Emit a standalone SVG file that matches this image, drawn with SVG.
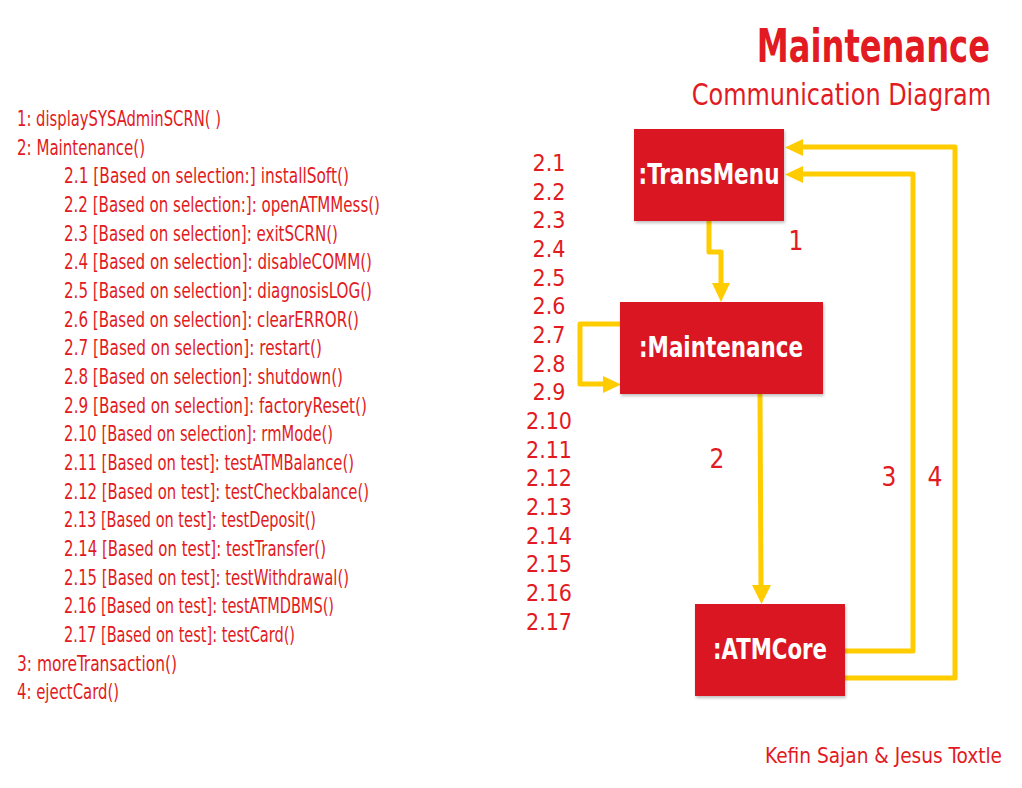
<svg xmlns="http://www.w3.org/2000/svg" width="1022" height="788" viewBox="0 0 1022 788">
  <defs>
    <style>
      text { font-family: "DejaVu Sans Condensed", "DejaVu Sans", "Liberation Sans", sans-serif; font-stretch: condensed; }
      .red { fill: #E21A22; }
      .title { font-size: 46px; font-weight: bold; }
      .subtitle { font-size: 31px; }
      .msg { font-size: 21px; }
      .num { font-size: 23px; }
      .lbl { font-size: 26px; }
      .credit { font-size: 22px; }
      .node rect { fill: #DA1820; filter: url(#shadow); }
      .node text { fill: #FFFFFF; font-weight: bold; font-size: 29px; }
      .wire { fill: none; stroke: #FFCC00; stroke-width: 5; stroke-linecap: round; stroke-linejoin: round; }
      .head { fill: #FFCC00; }
    </style>
    <filter id="shadow" x="-10%" y="-10%" width="125%" height="130%">
      <feDropShadow dx="1" dy="2" stdDeviation="1.5" flood-color="#000000" flood-opacity="0.25"/>
    </filter>
  </defs>

  <rect width="1022" height="788" fill="#FFFFFF"/>

  <!-- heading, narrowed horizontally -->
  <g id="heading">
    <text class="red title" transform="translate(990,62) scale(0.78,1)" x="0" y="0" text-anchor="end" textLength="299" lengthAdjust="spacingAndGlyphs">Maintenance</text>
    <text class="red subtitle" transform="translate(991,105) scale(0.88,1)" x="0" y="0" text-anchor="end" textLength="340" lengthAdjust="spacingAndGlyphs">Communication Diagram</text>
  </g>

  <!-- message list -->
  <g id="message-list" class="red msg">
    <text x="17" y="126" textLength="204" lengthAdjust="spacingAndGlyphs">1: displaySYSAdminSCRN( )</text>
    <text x="17" y="155" textLength="128" lengthAdjust="spacingAndGlyphs">2: Maintenance()</text>
    <text x="64" y="183" textLength="285" lengthAdjust="spacingAndGlyphs">2.1  [Based on selection:] installSoft()</text>
    <text x="64" y="212" textLength="316" lengthAdjust="spacingAndGlyphs">2.2  [Based on selection:]: openATMMess()</text>
    <text x="64" y="241" textLength="274" lengthAdjust="spacingAndGlyphs">2.3  [Based on selection]: exitSCRN()</text>
    <text x="64" y="269" textLength="308" lengthAdjust="spacingAndGlyphs">2.4  [Based on selection]: disableCOMM()</text>
    <text x="64" y="298" textLength="308" lengthAdjust="spacingAndGlyphs">2.5  [Based on selection]: diagnosisLOG()</text>
    <text x="64" y="327" textLength="295" lengthAdjust="spacingAndGlyphs">2.6  [Based on selection]: clearERROR()</text>
    <text x="64" y="355" textLength="258" lengthAdjust="spacingAndGlyphs">2.7  [Based on selection]: restart()</text>
    <text x="64" y="384" textLength="279" lengthAdjust="spacingAndGlyphs">2.8  [Based on selection]: shutdown()</text>
    <text x="64" y="413" textLength="303" lengthAdjust="spacingAndGlyphs">2.9  [Based on selection]: factoryReset()</text>
    <text x="64" y="441" textLength="269" lengthAdjust="spacingAndGlyphs">2.10 [Based on selection]: rmMode()</text>
    <text x="64" y="470" textLength="290" lengthAdjust="spacingAndGlyphs">2.11  [Based on test]: testATMBalance()</text>
    <text x="64" y="499" textLength="305" lengthAdjust="spacingAndGlyphs">2.12 [Based on test]: testCheckbalance()</text>
    <text x="64" y="527" textLength="252" lengthAdjust="spacingAndGlyphs">2.13 [Based on test]: testDeposit()</text>
    <text x="64" y="556" textLength="262" lengthAdjust="spacingAndGlyphs">2.14 [Based on test]: testTransfer()</text>
    <text x="64" y="585" textLength="285" lengthAdjust="spacingAndGlyphs">2.15 [Based on test]: testWithdrawal()</text>
    <text x="64" y="613" textLength="270" lengthAdjust="spacingAndGlyphs">2.16 [Based on test]: testATMDBMS()</text>
    <text x="64" y="642" textLength="231" lengthAdjust="spacingAndGlyphs">2.17 [Based on test]: testCard()</text>
    <text x="17" y="671" textLength="160" lengthAdjust="spacingAndGlyphs">3: moreTransaction()</text>
    <text x="17" y="699" textLength="102" lengthAdjust="spacingAndGlyphs">4: ejectCard()</text>
  </g>

  <!-- sequence numbers of the self-call -->
  <g id="self-call-numbers" class="red num" text-anchor="middle">
    <text x="549" y="171">2.1</text>
    <text x="549" y="200">2.2</text>
    <text x="549" y="228">2.3</text>
    <text x="549" y="257">2.4</text>
    <text x="549" y="286">2.5</text>
    <text x="549" y="314">2.6</text>
    <text x="549" y="343">2.7</text>
    <text x="549" y="372">2.8</text>
    <text x="549" y="400">2.9</text>
    <text x="549" y="429">2.10</text>
    <text x="549" y="458">2.11</text>
    <text x="549" y="486">2.12</text>
    <text x="549" y="515">2.13</text>
    <text x="549" y="544">2.14</text>
    <text x="549" y="572">2.15</text>
    <text x="549" y="601">2.16</text>
    <text x="549" y="630">2.17</text>
  </g>

  <!-- connectors -->
  <g id="connectors">
    <!-- 1: TransMenu -> Maintenance -->
    <path class="wire" d="M709,221 V252 H721 V284"/>
    <polygon class="head" points="712,283 730,283 721,302"/>
    <!-- 2.x: Maintenance self-call -->
    <path class="wire" d="M620,324 H580 V384 H604"/>
    <polygon class="head" points="603,376 603,393 621,384.5"/>
    <!-- 2: Maintenance -> ATMCore -->
    <path class="wire" d="M760,395 L761,586"/>
    <polygon class="head" points="752,585 771,585 761.5,604"/>
    <!-- 3: ATMCore -> TransMenu -->
    <path class="wire" d="M845,651 H913 V174 H802"/>
    <polygon class="head" points="803,166 803,183 785,174.5"/>
    <!-- 4: ATMCore -> TransMenu -->
    <path class="wire" d="M845,678 H955 V147 H802"/>
    <polygon class="head" points="803,139 803,156 785,147.5"/>
    <text class="red lbl" x="796" y="250" text-anchor="middle">1</text>
    <text class="red lbl" x="717" y="468" text-anchor="middle">2</text>
    <text class="red lbl" x="889" y="486" text-anchor="middle">3</text>
    <text class="red lbl" x="935" y="486" text-anchor="middle">4</text>
  </g>

  <!-- lifelines / objects -->
  <g id="node-transmenu" class="node">
    <rect x="634" y="129" width="150" height="92"/>
    <text x="709" y="184" text-anchor="middle" textLength="141" lengthAdjust="spacingAndGlyphs">:TransMenu</text>
  </g>
  <g id="node-maintenance" class="node">
    <rect x="620" y="302" width="203" height="92"/>
    <text x="721" y="357" text-anchor="middle" textLength="164" lengthAdjust="spacingAndGlyphs">:Maintenance</text>
  </g>
  <g id="node-atmcore" class="node">
    <rect x="695" y="604" width="150" height="92"/>
    <text x="770" y="659" text-anchor="middle" textLength="114" lengthAdjust="spacingAndGlyphs">:ATMCore</text>
  </g>

  <!-- credits -->
  <text class="red credit" x="765" y="763" textLength="237" lengthAdjust="spacingAndGlyphs">Kefin Sajan &amp; Jesus Toxtle</text>
</svg>
